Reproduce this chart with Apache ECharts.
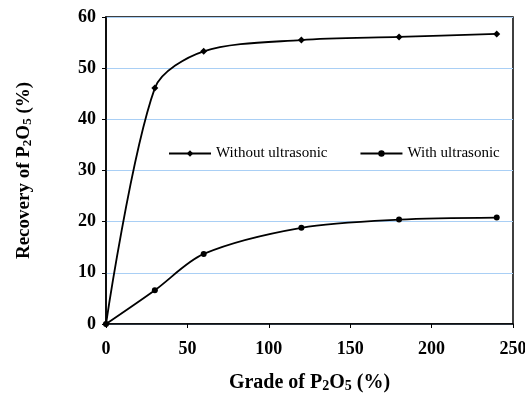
<!DOCTYPE html>
<html><head><meta charset="utf-8">
<script src="https://cdn.jsdelivr.net/npm/echarts@6/dist/echarts.min.js"></script>
<style>html,body{margin:0;padding:0;background:#fff}#c{width:525px;height:394px}</style>
</head><body><div id="c"></div>
<script>
var grades = [0, 30, 60, 120, 180, 240];
var withoutUltrasonic = [0, 46.1, 53.3, 55.5, 56.1, 56.7];
var withUltrasonic = [0, 6.6, 13.7, 18.8, 20.4, 20.8];
var xTicks = [0, 50, 100, 150, 200, 250];
var yTicks = [0, 10, 20, 30, 40, 50, 60];
var seriesNames = ['Without ultrasonic', 'With ultrasonic'];

function pairs(xs, ys){ return xs.map(function(x,i){return [x, ys[i]];}); }
var serif = '"Liberation Serif","Times New Roman",serif';
function rich(sz, sub){
  return {
    a:{fontFamily:serif,fontWeight:'bold',fontSize:sz,color:'#000'},
    s:{fontFamily:serif,fontWeight:'bold',fontSize:sub,color:'#000',padding:[7,0,0,0]}
  };
}
var chart = echarts.init(document.getElementById('c'));
chart.setOption({
  animation:false,
  backgroundColor:'#fff',
  grid:{left:106,top:17,right:12,bottom:70,show:true,borderColor:'#000',borderWidth:1.5,backgroundColor:'transparent',outerBoundsMode:'none',containLabel:false},
  legend:{
    left:168, top:146, padding:0, itemGap:32, itemWidth:42, itemHeight:8,
    textStyle:{fontFamily:serif,fontSize:15,color:'#000'},
    data:seriesNames
  },
  xAxis:{
    type:'value', min:xTicks[0], max:xTicks[xTicks.length-1], interval:50,
    axisLine:{lineStyle:{color:'#000',width:1.5}},
    axisTick:{show:true,inside:false,length:4,lineStyle:{color:'#000'}},
    axisLabel:{fontFamily:serif,fontWeight:'bold',fontSize:18,color:'#000',margin:16},
    splitLine:{show:false},
    name:'{a|Grade of P}{s|2}{a|O}{s|5}{a| (%)}',
    nameLocation:'middle', nameGap:48,
    nameTextStyle:{rich:rich(20,14)}
  },
  yAxis:{
    type:'value', min:yTicks[0], max:yTicks[yTicks.length-1], interval:10,
    axisLine:{show:true,lineStyle:{color:'#000',width:1.5}},
    axisTick:{show:true,inside:false,length:4,lineStyle:{color:'#000'}},
    axisLabel:{fontFamily:serif,fontWeight:'bold',fontSize:18,color:'#000',margin:10},
    splitLine:{show:true,lineStyle:{color:'#a9cff5',width:1}},
    name:'{a|Recovery of P}{s|2}{a|O}{s|5}{a| (%)}',
    nameLocation:'middle', nameGap:72, nameRotate:90,
    nameTextStyle:{rich:rich(19,13)}
  },
  series:[
    {name:seriesNames[0],type:'line',data:pairs(grades,withoutUltrasonic),smooth:0.3,
     symbol:'diamond',symbolSize:7,itemStyle:{color:'#000'},lineStyle:{color:'#000',width:1.8}},
    {name:seriesNames[1],type:'line',data:pairs(grades,withUltrasonic),smooth:0.3,
     symbol:'circle',symbolSize:6,itemStyle:{color:'#000'},lineStyle:{color:'#000',width:1.8}}
  ]
});
</script></body></html>
